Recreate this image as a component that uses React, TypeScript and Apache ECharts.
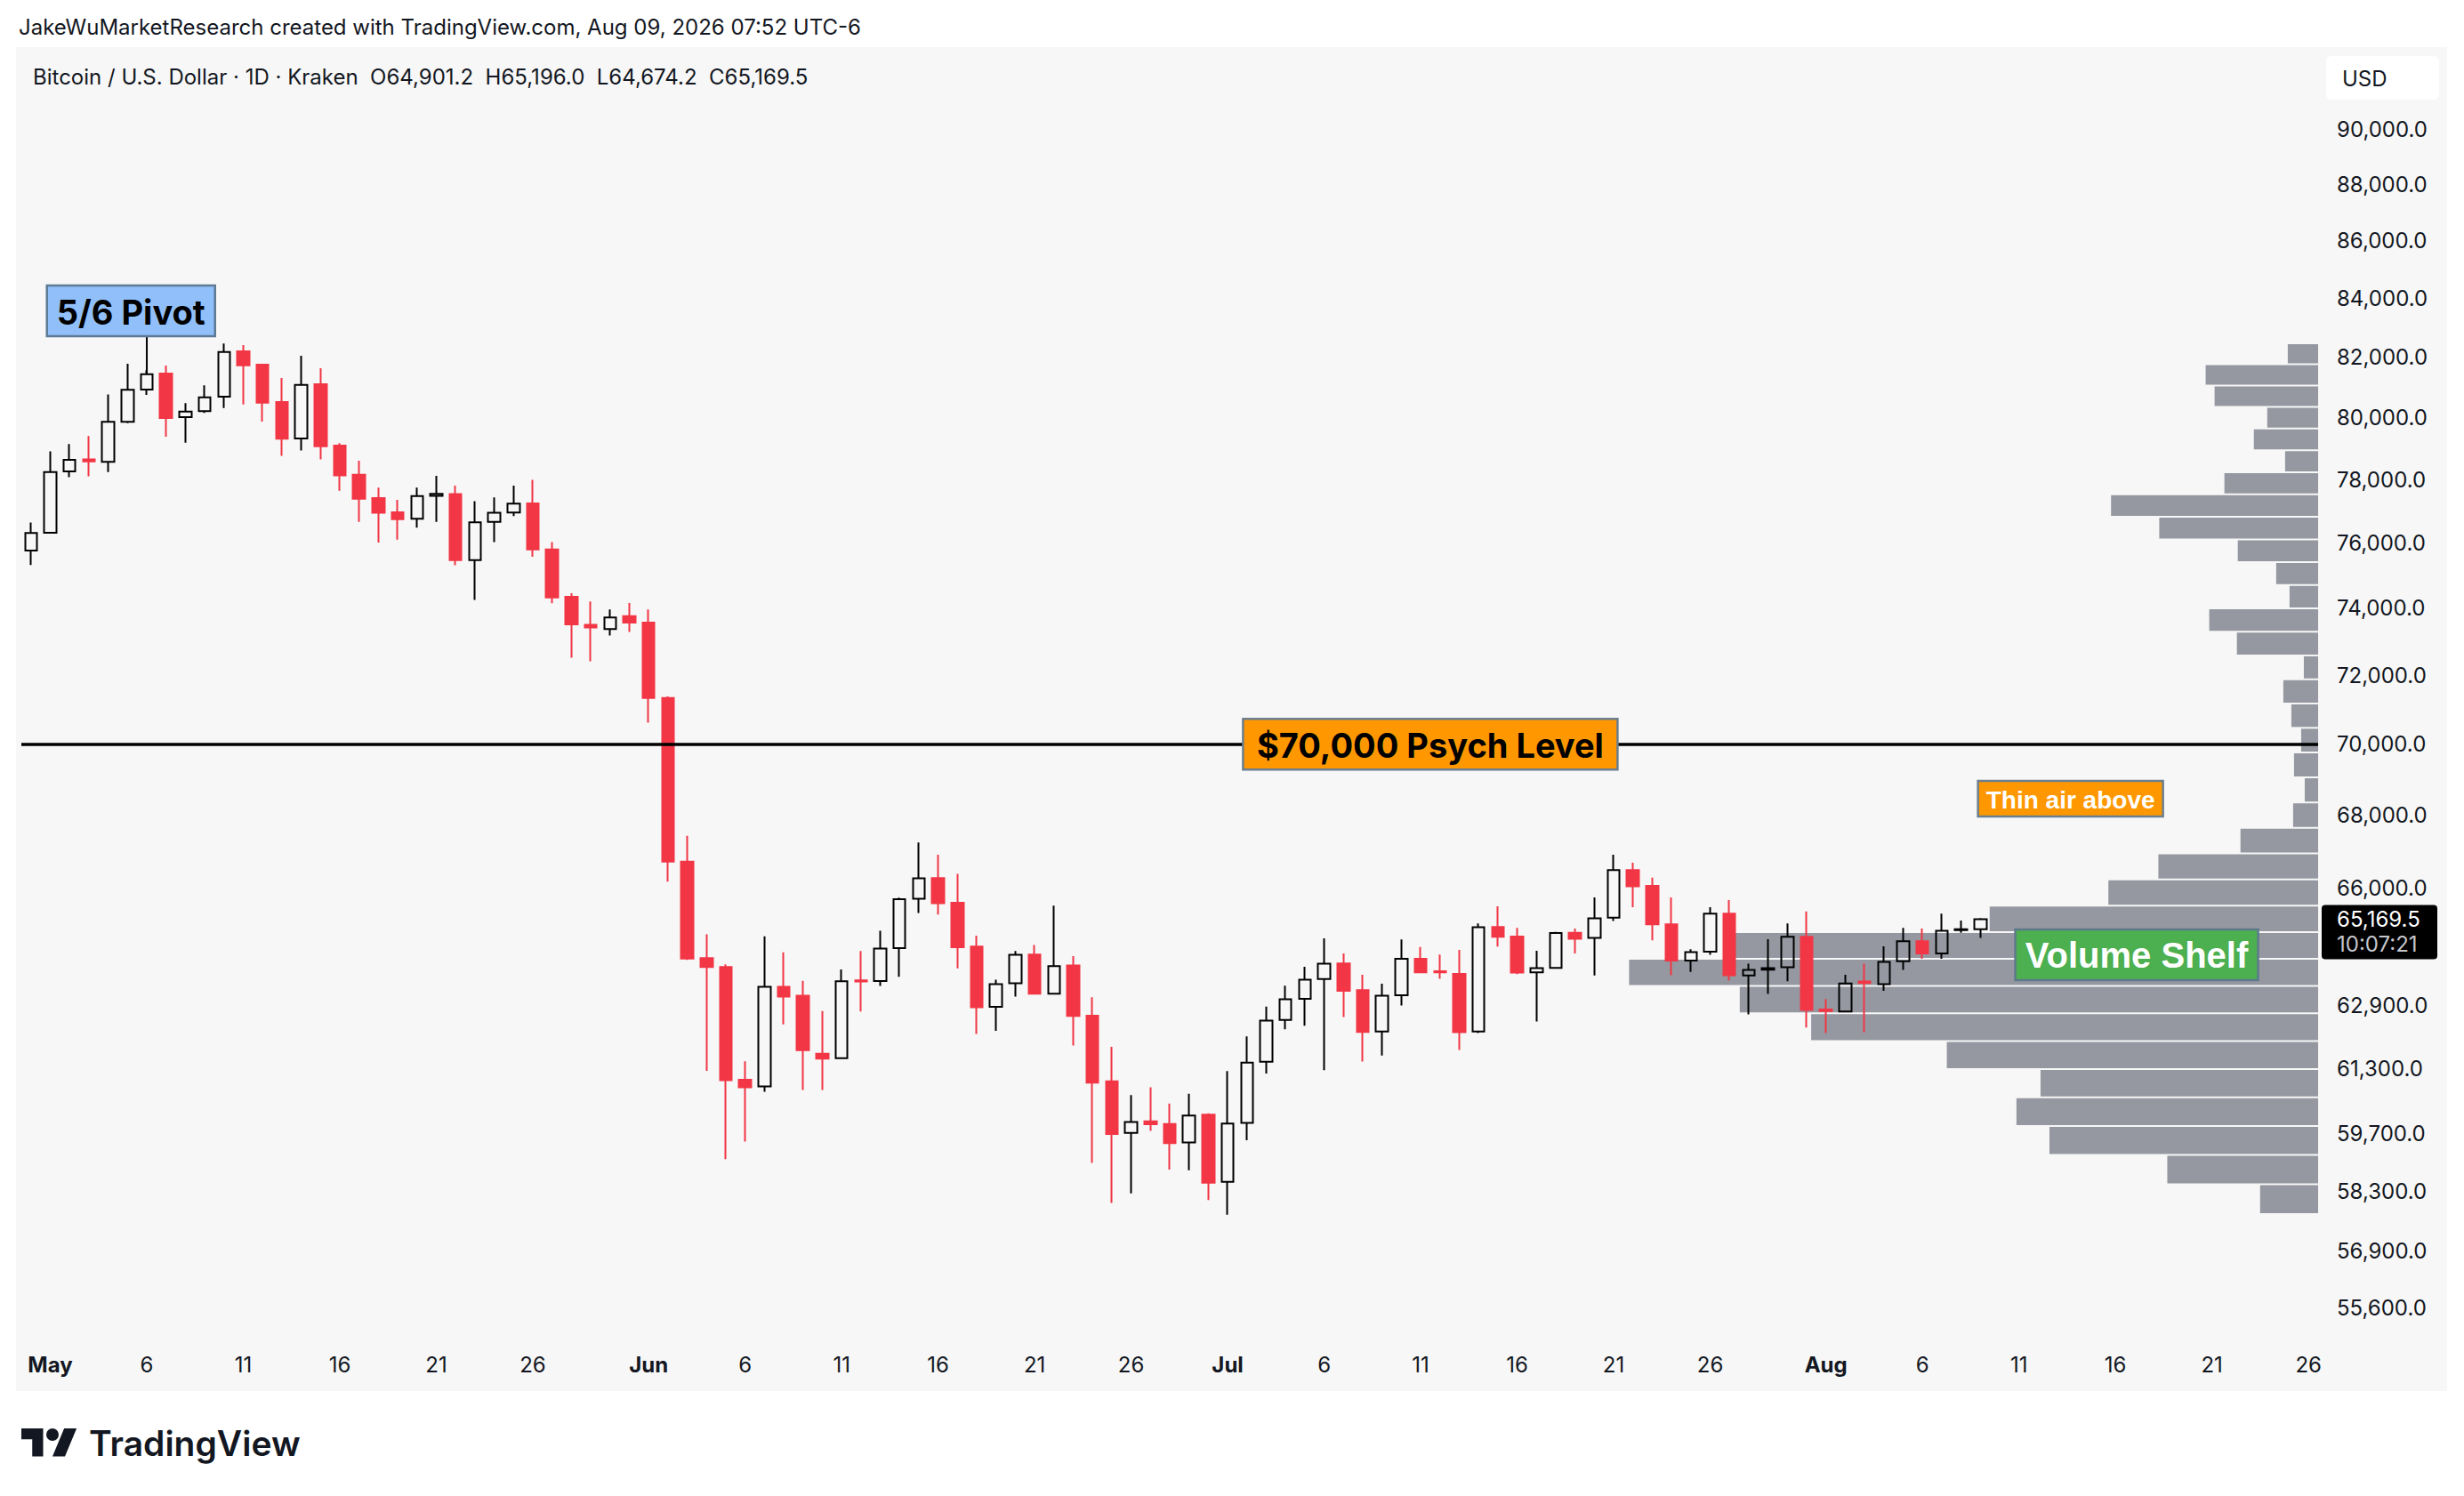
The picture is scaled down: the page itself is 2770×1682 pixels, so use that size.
import React, { useEffect, useRef } from "react";
import * as echarts from "echarts";

// ---------- DATA ----------
const START_DATE = "2026-04-30";
const CATEGORY_COUNT = 119; // Apr 30 .. Aug 26
const MONTHS = ["Jan", "Feb", "Mar", "Apr", "May", "Jun", "Jul", "Aug", "Sep", "Oct", "Nov", "Dec"];
const LABEL_DAYS = [1, 6, 11, 16, 21, 26];

const OPEN = [
  75765, 76320, 78258, 78640, 78562, 79858, 80920, 81450, 80012, 80208,
  80684, 82194, 81747, 80509, 79316, 81096, 79087, 78148, 77409, 76960,
  76756, 77480, 77535, 75470, 76660, 76955, 77240, 75800, 74344, 73500,
  73375, 73763, 73567, 71333, 66720, 64138, 63907, 61030, 60866, 63390,
  63163, 61680, 61570, 63560, 63545, 64405, 65714, 66276, 65611, 64444,
  62879, 63484, 64235, 63215, 63946, 62650, 60990, 59718, 60000, 59934,
  59485, 60165, 58534, 59962, 61480, 62538, 63085, 63592, 64003, 63307,
  62243, 63177, 64122, 63800, 63730, 62243, 64963, 64708, 63770, 63886,
  64810, 64670, 65207, 66492, 66065, 65030, 64079, 64312, 65316, 63685,
  63840, 63900, 64700, 62810, 62757, 63530, 63461, 64056, 64585, 64260,
  64880, 64901.2,
];
const HIGH = [
  76640, 78900, 79135, 79395, 80760, 81777, 81560, 81718, 80470, 81058,
  82455, 82400, 81777, 81303, 82045, 81628, 79164, 78600, 77739, 77353,
  77739, 78118, 77805, 77310, 77430, 77805, 77985, 76027, 74457, 74204,
  73960, 74160, 73960, 71380, 67430, 64765, 63980, 61490, 64716, 64290,
  63550, 62770, 63846, 64327, 64859, 65746, 67242, 66910, 66387, 64734,
  63576, 64327, 64487, 65530, 64194, 63124, 61859, 60650, 60842, 60437,
  60680, 60200, 61249, 62120, 62880, 63423, 63915, 64660, 64260, 63707,
  63476, 64630, 64430, 64235, 64357, 65058, 65510, 64940, 64334, 64830,
  64920, 65750, 66910, 66693, 66283, 65750, 64374, 65491, 65680, 63994,
  64640, 65058, 65374, 63077, 63707, 63994, 64450, 64940, 64918, 65316,
  65135, 65196.0,
];
const LOW = [
  75320, 76300, 78070, 78098, 78238, 79818, 80743, 79375, 79180, 80150,
  80313, 80430, 79866, 78756, 78930, 78640, 77643, 76662, 76016, 76107,
  76477, 76662, 75311, 74250, 76027, 76840, 75570, 74148, 72520, 72412,
  73180, 73285, 70618, 66175, 64093, 61253, 59083, 59505, 60730, 62425,
  60773, 60773, 61550, 62755, 63414, 63654, 65337, 65290, 63870, 62185,
  62260, 63138, 63200, 63200, 61890, 58988, 58031, 58260, 59768, 58830,
  58816, 58102, 57753, 59540, 61185, 62300, 62390, 61270, 62612, 61486,
  61640, 62910, 63760, 63600, 61778, 62205, 64444, 63722, 62500, 63860,
  64260, 63690, 65120, 65491, 64610, 63692, 63777, 64226, 63553, 62680,
  63210, 63538, 62345, 62205, 62740, 62228, 63287, 63830, 64120, 64120,
  64810, 64674.2,
];
const CLOSE = [
  76310, 78238, 78628, 78580, 79858, 80910, 81430, 79983, 80196, 80663,
  82173, 81726, 80489, 79307, 81076, 79068, 78129, 77390, 76943, 76745,
  77474, 77540, 75470, 76648, 76945, 77230, 75800, 74330, 73515, 73420,
  73721, 73567, 71333, 66720, 64130, 63907, 61016, 60840, 63390, 63141,
  61770, 61560, 63538, 63530, 64389, 65706, 66266, 65595, 64428, 62863,
  63461, 64228, 63215, 63930, 62643, 60960, 59690, 59984, 59930, 59470,
  60143, 58513, 59948, 61457, 62522, 63070, 63576, 63994, 63287, 62235,
  63160, 64122, 63770, 63770, 62228, 64955, 64700, 63761, 63877, 64800,
  64650, 65190, 66492, 66048, 65030, 64079, 64296, 65316, 63692, 63830,
  63880, 64700, 62795, 62770, 63480, 63490, 64040, 64585, 64260, 64862,
  64905, 65169.5,
];

// Visible-range volume profile: 35 equal price rows, listed bottom -> top
const VP_LOW_PRICE = 57771;
const VP_ROW_SIZE = 705.5;
const VP_VOLUME = [
  65, 169, 301, 338, 311, 416, 568, 648, 772, 654,
  368, 235, 179, 87, 28, 15, 27, 19, 30, 39,
  16, 91, 122, 32, 47, 90, 178, 232, 105, 37,
  72, 57, 116, 126, 34,
];
const VP_WIDTH_SHARE = 0.3;

const Y_TICKS = [
  90000, 88000, 86000, 84000, 82000, 80000, 78000, 76000, 74000, 72000,
  70000, 68000, 66000, 62900, 61300, 59700, 58300, 56900, 55600,
];
const Y_MIN = 54884;
const Y_MAX = 93073;
const PSYCH_LEVEL = 70000;

const HEADER_TEXT = "JakeWuMarketResearch created with TradingView.com, Aug 09, 2026 07:52 UTC-6";
const LEGEND_TEXT = "Bitcoin / U.S. Dollar · 1D · Kraken  O64,901.2  H65,196.0  L64,674.2  C65,169.5";
const COUNTDOWN = "10:07:21";

const ANNOTATIONS = [
  { text: "5/6 Pivot", idx: 5.18, price: 83563, w: 189, h: 57, fill: "#90bff9", stroke: "#5d7a96", color: "#000000", size: 38, family: "Inter", pointer: 6 },
  { text: "$70,000 Psych Level", idx: 72.5, price: 70000, w: 421, h: 57, fill: "#ff9800", stroke: "#6b7f8e", color: "#000000", size: 38, family: "Inter", pointer: -1 },
  { text: "Thin air above", idx: 105.67, price: 68458, w: 208, h: 40, fill: "#ff9800", stroke: "#6b7f8e", color: "#ffffff", size: 28, family: "Liberation Sans", pointer: -1 },
  { text: "Volume Shelf", idx: 109.1, price: 64229, w: 273, h: 57, fill: "#4caf50", stroke: "#5d7a8c", color: "#ffffff", size: 40, family: "Liberation Sans", pointer: -1 },
];

// ---------- helpers ----------
const buildDates = (): string[] => {
  const start = new Date(START_DATE + "T00:00:00Z").getTime();
  const out: string[] = [];
  for (let i = 0; i < CATEGORY_COUNT; i++) {
    out.push(new Date(start + i * 86400000).toISOString().slice(0, 10));
  }
  return out;
};

const TV_LOGO_PATH =
  "M14 22H7V11H0V4h14v18zM28 22h-8l7.5-18h8L28 22zM16 8a4 4 0 1 0 8 0a4 4 0 1 0 -8 0z";
try {
  echarts.graphic.registerShape("tvLogo", echarts.graphic.extendPath(TV_LOGO_PATH, {}) as any);
} catch (e) {
  // already registered
}

const W = 2770;
const H = 1682;
const GRID_LEFT = 24;
const GRID_RIGHT = 164;
const GRID_TOP = 53;
const GRID_BOTTOM = 176;
const FONT = "Inter";
const TEXT_COLOR = "#131722";
const PANEL_BG = "#f7f7f7";

const fmtPrice = (v: number) =>
  Number(v).toLocaleString("en-US", { minimumFractionDigits: 1, maximumFractionDigits: 1 });

export default function App() {
  const ref = useRef<HTMLDivElement>(null);

  useEffect(() => {
    document.body.style.margin = "0";
    if (!ref.current) return;
    const chart = echarts.init(ref.current, null, { renderer: "svg" });
    const dates = buildDates();
    const candles = OPEN.map((o, i) => [o, CLOSE[i], LOW[i], HIGH[i]]);
    const vpData = VP_VOLUME.map((v, i) => [v, VP_LOW_PRICE + i * VP_ROW_SIZE, VP_LOW_PRICE + (i + 1) * VP_ROW_SIZE]);
    const vpMax = Math.max(...VP_VOLUME);

    const option: any = {
      animation: false,
      backgroundColor: "#ffffff",
      textStyle: { fontFamily: FONT },
      grid: { left: GRID_LEFT, right: GRID_RIGHT, top: GRID_TOP, bottom: GRID_BOTTOM, containLabel: false },
      xAxis: [
        {
          type: "category",
          data: dates,
          boundaryGap: true,
          axisLine: { show: false },
          axisTick: { show: false },
          splitLine: { show: false },
          axisLabel: {
            interval: (_i: number, val: string) => LABEL_DAYS.includes(parseInt(val.slice(8), 10)),
            formatter: (val: string) => {
              const d = parseInt(val.slice(8), 10);
              const m = parseInt(val.slice(5, 7), 10) - 1;
              return d === 1 ? `{m|${MONTHS[m]}}` : String(d);
            },
            rich: { m: { fontWeight: "bold", fontSize: 24, fontFamily: FONT, color: TEXT_COLOR } },
            color: TEXT_COLOR,
            fontSize: 24,
            fontFamily: FONT,
            margin: 16,
            hideOverlap: false,
          },
        },
        {
          type: "value",
          show: false,
          inverse: true,
          min: 0,
          max: vpMax / VP_WIDTH_SHARE,
          position: "top",
          splitLine: { show: false },
        },
      ],
      yAxis: [
        {
          type: "log",
          logBase: 10,
          min: Y_MIN,
          max: Y_MAX,
          position: "right",
          axisLine: { show: false },
          axisTick: { show: false },
          splitLine: { show: false },
          axisLabel: {
            customValues: Y_TICKS,
            formatter: (v: number) => fmtPrice(v),
            color: TEXT_COLOR,
            fontSize: 24,
            fontFamily: FONT,
            margin: 21,
            align: "left",
          },
        },
      ],
      series: [
        {
          type: "custom",
          name: "Volume Profile",
          xAxisIndex: 1,
          yAxisIndex: 0,
          z: 1,
          silent: true,
          data: vpData,
          encode: { x: 0, y: [1, 2] },
          renderItem: (_p: any, api: any) => {
            const v = api.value(0);
            const lo = api.value(1);
            const hi = api.value(2);
            const p0 = api.coord([0, hi]);
            const p1 = api.coord([v, lo]);
            return {
              type: "rect",
              shape: {
                x: Math.min(p0[0], p1[0]),
                y: p0[1] + 1,
                width: Math.abs(p1[0] - p0[0]),
                height: Math.max(0, p1[1] - p0[1] - 2),
              },
              style: { fill: "#9598a1" },
            };
          },
        },
        {
          type: "candlestick",
          name: "BTCUSD",
          xAxisIndex: 0,
          yAxisIndex: 0,
          z: 3,
          barWidth: 14,
          data: candles,
          itemStyle: {
            color: "rgba(0,0,0,0)",
            color0: "#f23645",
            borderColor: "#000000",
            borderColor0: "#f23645",
            borderWidth: 2,
          },
          markLine: {
            silent: true,
            symbol: ["none", "none"],
            label: { show: false },
            lineStyle: { color: "#000000", width: 3.5, type: "solid" },
            data: [{ yAxis: PSYCH_LEVEL }],
          },
        },
      ],
    };
    chart.setOption(option);

    const toPx = (idx: number, price: number) => {
      const i0 = Math.floor(idx);
      const a = chart.convertToPixel({ xAxisIndex: 0, yAxisIndex: 0 } as any, [i0, price]) as number[];
      const b = chart.convertToPixel({ xAxisIndex: 0, yAxisIndex: 0 } as any, [i0 + 1, price]) as number[];
      return [a[0] + (b[0] - a[0]) * (idx - i0), a[1]];
    };

    const graphics: any[] = [
      { type: "rect", z: -100, silent: true, shape: { x: 18, y: 53, width: 2733, height: 1511 }, style: { fill: PANEL_BG } },
      {
        type: "text", z: 50, x: 21, y: 30,
        style: { text: HEADER_TEXT, fontSize: 24, fontFamily: FONT, fill: TEXT_COLOR, verticalAlign: "middle", align: "left" },
      },
      {
        type: "text", z: 50, x: 37, y: 86,
        style: { text: LEGEND_TEXT, fontSize: 24, fontFamily: FONT, fill: TEXT_COLOR, verticalAlign: "middle", align: "left" },
      },
      { type: "rect", z: 50, shape: { x: 2615, y: 63, width: 127, height: 49, r: 6 }, style: { fill: "#ffffff" } },
      {
        type: "text", z: 51, x: 2633, y: 88,
        style: { text: "USD", fontSize: 24, fontFamily: FONT, fill: TEXT_COLOR, verticalAlign: "middle", align: "left" },
      },
      { type: "tvLogo", z: 50, x: 24, y: 1606 - 4 * 1.75, scaleX: 1.75, scaleY: 1.75, style: { fill: "#131722" } },
      {
        type: "text", z: 50, x: 100, y: 1622,
        style: { text: "TradingView", fontSize: 39, fontWeight: 600, fontFamily: FONT, fill: "#131722", verticalAlign: "middle", align: "left" },
      },
    ];

    // annotations
    ANNOTATIONS.forEach((a) => {
      const [cx, cy] = toPx(a.idx, a.price);
      if (a.pointer >= 0) {
        const [px, py] = toPx(a.pointer, CLOSE[a.pointer]);
        graphics.push({
          type: "line", z: 60,
          shape: { x1: px, y1: cy + a.h / 2, x2: px, y2: py },
          style: { stroke: "#000000", lineWidth: 2 },
        });
      }
      graphics.push({
        type: "group", z: 61, x: cx, y: cy,
        children: [
          {
            type: "rect", z: 61,
            shape: { x: -a.w / 2, y: -a.h / 2, width: a.w, height: a.h },
            style: { fill: a.fill, stroke: a.stroke, lineWidth: 2.5 },
          },
          {
            type: "text", z: 62,
            style: {
              text: a.text, x: 0, y: 1, align: "center", verticalAlign: "middle",
              fontSize: a.size, fontWeight: "bold", fontFamily: a.family, fill: a.color,
            },
          },
        ],
      });
    });

    // last price label
    const last = CLOSE.length - 1;
    const [, ly] = toPx(last, CLOSE[last]);
    graphics.push(
      { type: "rect", z: 70, shape: { x: 2610, y: ly - 16, width: 130, height: 61, r: 4 }, style: { fill: "#000000" } },
      {
        type: "text", z: 71, x: 2627, y: ly,
        style: { text: fmtPrice(CLOSE[last]), fontSize: 24, fontFamily: FONT, fill: "#ffffff", verticalAlign: "middle", align: "left" },
      },
      {
        type: "text", z: 71, x: 2627, y: ly + 28,
        style: { text: COUNTDOWN, fontSize: 24, fontFamily: FONT, fill: "#c4c6cc", verticalAlign: "middle", align: "left" },
      }
    );

    chart.setOption({ graphic: { elements: graphics } });

    return () => {
      chart.dispose();
    };
  }, []);

  return <div ref={ref} style={{ width: W, height: H }} />;
}
